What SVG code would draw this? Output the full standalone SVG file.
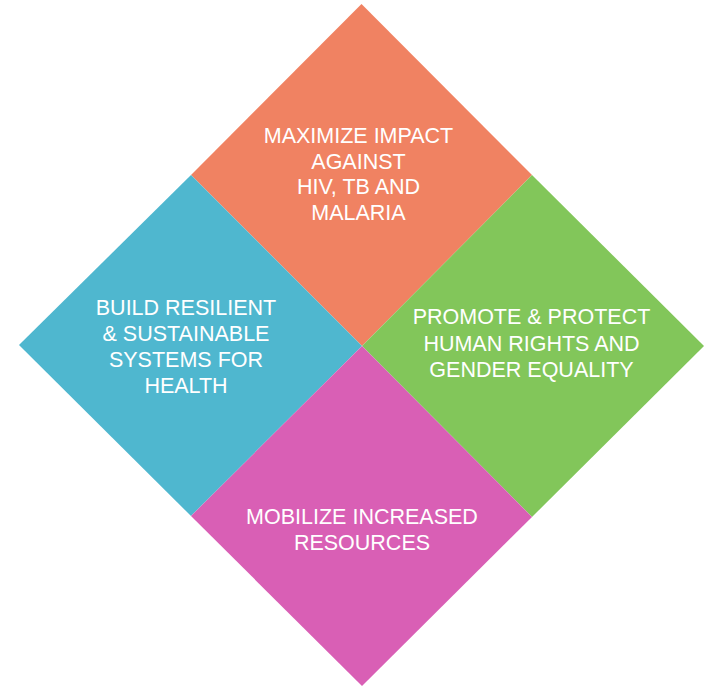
<svg xmlns="http://www.w3.org/2000/svg" width="710" height="688" viewBox="0 0 710 688">
<style>
.t{font-family:"Liberation Sans",Arial,sans-serif;font-size:21.5px;fill:#ffffff;text-anchor:middle}
</style>
<rect width="710" height="688" fill="#ffffff"/>
<g id="node-impact">
<polygon points="361.5,4 532,175 362,346 191,175" fill="#F08262"/>
<text class="t" x="358.5" y="143">MAXIMIZE IMPACT</text>
<text class="t" x="358.5" y="168.5">AGAINST</text>
<text class="t" x="358.5" y="194">HIV, TB AND</text>
<text class="t" x="358.5" y="219.5">MALARIA</text>
</g>
<g id="node-systems">
<polygon points="191,175 362,346 191,516 19,345" fill="#4FB7CF"/>
<text class="t" x="186" y="315">BUILD RESILIENT</text>
<text class="t" x="186" y="341">&amp; SUSTAINABLE</text>
<text class="t" x="186" y="367">SYSTEMS FOR</text>
<text class="t" x="186" y="392.5">HEALTH</text>
</g>
<g id="node-rights">
<polygon points="532,175 704,346 532,517 362,346" fill="#82C65A"/>
<text class="t" x="531.5" y="324">PROMOTE &amp; PROTECT</text>
<text class="t" x="531.5" y="350.5">HUMAN RIGHTS AND</text>
<text class="t" x="531.5" y="377">GENDER EQUALITY</text>
</g>
<g id="node-resources">
<polygon points="362,346 532,517 362,686 191,516" fill="#D95FB5"/>
<text class="t" x="362" y="524">MOBILIZE INCREASED</text>
<text class="t" x="362" y="550">RESOURCES</text>
</g>
<g id="connectors"></g>
</svg>
